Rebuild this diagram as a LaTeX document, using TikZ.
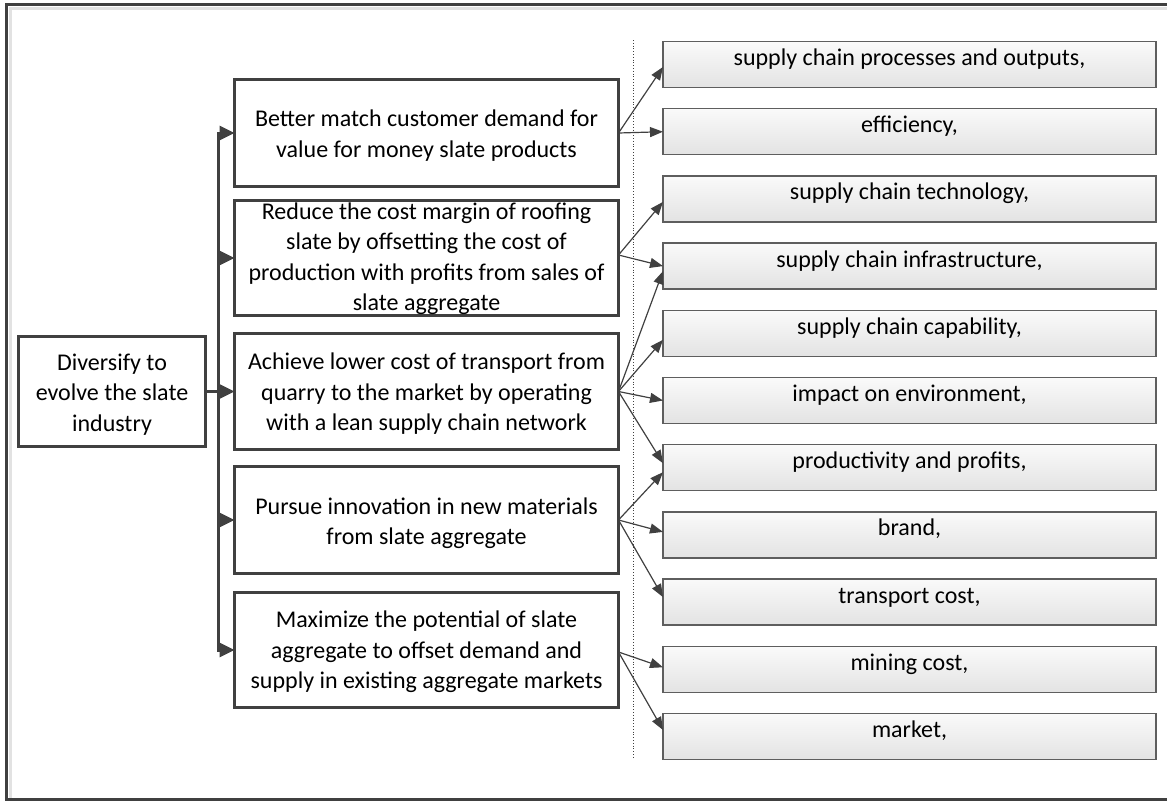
\documentclass[tikz,border=0pt]{standalone}
\usepackage{fontspec}
\setmainfont{Carlito}
\usetikzlibrary{arrows.meta}
\definecolor{dk}{HTML}{404040}
\definecolor{rb}{HTML}{5E5E5E}
\definecolor{shadowgray}{HTML}{E2E2E2}
\begin{document}
\begin{tikzpicture}[x=1pt,y=-1pt,
  font=\fontsize{24}{30.5}\selectfont,
  midbox/.style={draw=dk, line width=3pt, fill=white, minimum width=384pt, inner sep=0pt, outer sep=0pt},
  midtext/.style={align=center, inner sep=0pt, text=black},
  rbox/.style={draw=rb, line width=1.5pt, top color=white!98!black, bottom color=white!89!black, minimum width=493pt, minimum height=46pt, inner sep=0pt, outer sep=0pt, text=black, text height=12pt, text depth=10pt},
  thinarrow/.style={draw=dk, line width=1.2pt, -{Triangle[length=13pt,width=10pt]}},
  trunkarrow/.style={draw=dk, line width=3pt, -{Triangle[length=15pt,width=14pt]}},
  framestyle/.style={draw=dk, line width=3pt},
  dotline/.style={draw=dk, line width=0.8pt, dotted}
]
\useasboundingbox (0,0) rectangle (1167,801);
% frame
\draw[shadowgray, line width=3pt] (10,799) -- (10,8.5) -- (1167,8.5);
\draw[framestyle] (1167,4) -- (6.5,4) -- (6.5,799.5) -- (1167,799.5);

% dotted separator
\coordinate (dtop) at (633,40);
\coordinate (dbot) at (633,757);
\draw[dotline] (dtop) -- (dbot);

% left box
\node[midbox, minimum width=187pt, minimum height=110pt] (L) at (112,391.5) {};
\node[midtext] (Lt) at ([yshift=-3pt]L.center) {Diversify to\\evolve the slate\\industry};

% middle boxes
\node[midbox, minimum height=107pt] (m1) at (426.5,133) {};
\node[midtext] (m1t) at ([yshift=-2.5pt]m1.center)
  {Better match customer demand for\\value for money slate products};
\node[midbox, minimum height=115pt] (m2) at (426.5,258) {};
\node[midtext] (m2t) at ([yshift=-0.5pt]m2.center)
  {Reduce the cost margin of roofing\\slate by offsetting the cost of\\production with profits from sales of\\slate aggregate};
\node[midbox, minimum height=116pt] (m3) at (426.5,391.5) {};
\node[midtext] (m3t) at ([yshift=-2.5pt]m3.center)
  {Achieve lower cost of transport from\\quarry to the market by operating\\with a lean supply chain network};
\node[midbox, minimum height=107pt] (m4) at (426.5,520) {};
\node[midtext] (m4t) at ([yshift=-3pt]m4.center)
  {Pursue innovation in new materials\\from slate aggregate};
\node[midbox, minimum height=115pt] (m5) at (426.5,650) {};
\node[midtext] (m5t) at ([yshift=-2pt]m5.center)
  {Maximize the potential of slate\\aggregate to offset demand and\\supply in existing aggregate markets};

% right boxes
\foreach \i/\t in {1/{supply chain processes and outputs,},2/{efficiency,},3/{supply chain technology,},4/{supply chain infrastructure,},5/{supply chain capability,},6/{impact on environment,},7/{productivity and profits,},8/{brand,},9/{transport cost,},10/{mining cost,},11/{market,}}{
  \node[rbox] (r\i) at (909.5,{64.5+67.2*(\i-1)}) {\t};
}

% trunk connectors
\coordinate (tr) at (218,391.5);
\draw[trunkarrow] (L.east) -- (tr) |- (m1.west);
\draw[trunkarrow] (L.east) -- (tr) |- (m2.west);
\draw[trunkarrow] (L.east) -- (m3.west);
\draw[trunkarrow] (L.east) -- (tr) |- (m4.west);
\draw[trunkarrow] (L.east) -- (tr) |- (m5.west);

% thin connectors
\draw[thinarrow] (m1.east) -- ([yshift=-2.5pt]r1.west);
\draw[thinarrow] (m1.east) -- (r2.west);
\draw[thinarrow] ([yshift=3pt]m2.east) -- ([yshift=-3pt]r3.west);
\draw[thinarrow] ([yshift=3pt]m2.east) -- (r4.west);
\draw[thinarrow] (m3.east) -- ([yshift=-5pt]r4.west);
\draw[thinarrow] (m3.east) -- ([yshift=-6.5pt]r5.west);
\draw[thinarrow] (m3.east) -- (r6.west);
\draw[thinarrow] (m3.east) -- ([yshift=4.5pt]r7.west);
\draw[thinarrow] (m4.east) -- ([yshift=-4.5pt]r7.west);
\draw[thinarrow] (m4.east) -- ([yshift=3pt]r8.west);
\draw[thinarrow] (m4.east) -- ([yshift=5pt]r9.west);
\draw[thinarrow] ([yshift=-2pt]m5.east) -- ([yshift=2pt]r10.west);
\draw[thinarrow] ([yshift=-2pt]m5.east) -- ([yshift=6.5pt]r11.west);
\end{tikzpicture}
\end{document}
